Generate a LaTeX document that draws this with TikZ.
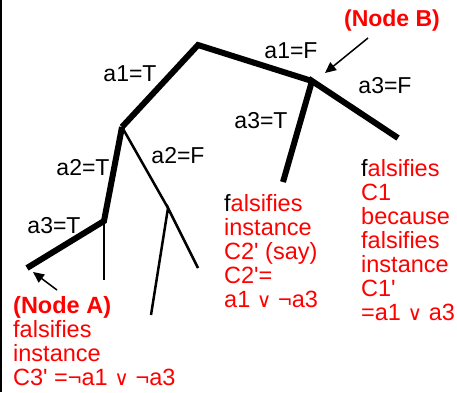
\documentclass[tikz,border=0pt]{standalone}
\usepackage{fontspec}
\setmainfont{Liberation Sans}[Ligatures=TeXOff]
\newfontfamily\dvfont{DejaVu Sans}
\usetikzlibrary{arrows.meta}
\definecolor{myred}{RGB}{255,0,0}
\newcommand{\orsym}{{\dvfont\fontsize{20}{24}\selectfont ∨}}
\tikzset{
  thickedge/.style={line width=6pt},
  thinedge/.style={line width=2.5pt},
  lbl/.style={font=\fontsize{23}{24}\selectfont, inner sep=0pt, anchor=base},
  redtext/.style={font=\fontsize{23.5}{24}\selectfont, text=myred, inner sep=0pt, anchor=base west, align=left},
  pointer/.style={line width=1.5pt, -{Triangle[length=11pt,width=10pt]}},
}
\begin{document}
\begin{tikzpicture}[x=1pt,y=-1pt]
\useasboundingbox (0,0) rectangle (457,392);
\draw[line width=1.5pt] (0.75,0) -- (0.75,392);
% tree nodes
\coordinate (R) at (198,45);
\coordinate (N1) at (122,127);
\coordinate (B) at (312,81);
\coordinate (BT) at (283,182);
\coordinate (BF) at (398,138);
\coordinate (N2) at (104,221);
\coordinate (A) at (27,268);
\coordinate (N2F) at (104,280);
\coordinate (N3) at (168,208);
\coordinate (N3L) at (151,315);
\coordinate (N3R) at (198,268);
% edges
\draw[thickedge] (N1) -- (R) -- (B);
\draw[thickedge] (BT) -- (B) -- (BF);
\draw[thickedge] (N1) -- (N2) -- (A);
\draw[thinedge] (N2) -- (N2F);
\draw[thinedge] (N1) -- (N3);
\draw[thinedge] (N3L) -- (N3) -- (N3R);
% edge labels
\node[lbl] (l1) at (130,81) {a1=T};
\node[lbl] (l2) at (291,58) {a1=F};
\node[lbl] (l3) at (385,93) {a3=F};
\node[lbl] (l4) at (261,128) {a3=T};
\node[lbl] (l5) at (83,175) {a2=T};
\node[lbl] (l6) at (178,163) {a2=F};
\node[lbl] (l7) at (54,233) {a3=T};
% Node B
\node[lbl, text=myred, font=\fontsize{23}{24}\selectfont\bfseries] (nb) at (392,26) {(Node B)};
\coordinate (pbs) at (368,38);
\coordinate (pbe) at (325,73);
\draw[pointer] (pbs) -- (pbe);
% Node A
\coordinate (pas) at (57,290);
\coordinate (pae) at (33,272);
\draw[pointer] (pas) -- (pae);
\node[redtext] (ta) at (13,385) {\textbf{(Node A)}\\falsifies\\instance\\C3' =¬a1 \orsym{} ¬a3};
\node[redtext] (tm) at (224,307) {\textcolor{black}{f}alsifies\\instance\\C2' (say)\\C2'=\\a1 \orsym{} ¬a3};
\node[redtext] (tr) at (361,320) {\textcolor{black}{f}alsifies\\C1\\because\\falsifies\\instance\\C1'\\=a1 \orsym{} a3};
\end{tikzpicture}
\end{document}
